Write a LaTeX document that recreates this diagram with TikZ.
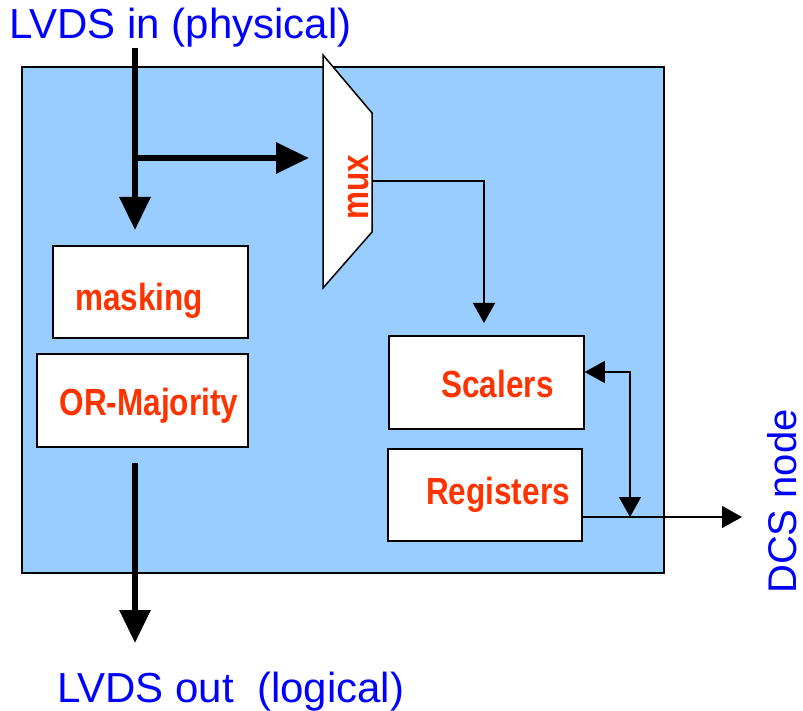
\documentclass[tikz,border=0pt]{standalone}
\usepackage{fontspec}
\setmainfont{Liberation Sans}
\usetikzlibrary{arrows.meta}
\definecolor{panelblue}{HTML}{99CCFF}
\definecolor{labelred}{HTML}{FF3300}
\definecolor{textblue}{HTML}{0000FF}
\tikzset{
  blockbox/.style={draw=black, line width=1.5pt, fill=white, inner sep=0pt},
  redlabel/.style={text=labelred, inner sep=0pt, anchor=base, font=\bfseries\fontsize{31.5}{36}\selectfont},
  bluelabel/.style={text=textblue, inner sep=0pt, font=\fontsize{42}{48}\selectfont},
  thickarrow/.style={line width=6pt, -{Triangle[length=33pt,width=30pt]}},
  thinarrow/.style={line width=1.3pt, -{Triangle[length=20pt,width=22pt]}},
  thindouble/.style={line width=1.3pt, {Triangle[length=20pt,width=22pt]}-{Triangle[length=20pt,width=22pt]}},
}
\newcommand{\tallred}[1]{\scalebox{1}[1.2]{#1}}
\begin{document}
\begin{tikzpicture}[x=1pt,y=-1pt]
\useasboundingbox (0,0) rectangle (803,711);
% main panel
\draw[line width=1.6pt, fill=panelblue] (22,67) rectangle (664,573);
\coordinate (panelNE) at (664,67);

% mux trapezoid
\coordinate (muxA) at (323,55);
\coordinate (muxB) at (372,113);
\coordinate (muxC) at (372,232);
\coordinate (muxD) at (323,288);
\draw[line width=1.5pt, fill=white, line join=miter] (muxA) -- (muxB) -- (muxC) -- (muxD) -- cycle;
\coordinate (muxout) at (372,181);
\node[redlabel, rotate=90] (muxtext) at (368,187.5) {\tallred{mux}};

% blocks
\node[blockbox, minimum width=195pt, minimum height=92pt] (masking) at (150.5,292) {};
\node[blockbox, minimum width=211pt, minimum height=93pt] (ormaj) at (142.5,400.5) {};
\node[blockbox, minimum width=195pt, minimum height=93pt] (scalers) at (486.5,382.5) {};
\node[blockbox, minimum width=194pt, minimum height=92pt] (registers) at (485,495) {};

\node[redlabel] (maskingtext) at (139,310) {\tallred{masking}};
\node[redlabel] (ormajtext) at (149,415) {\tallred{OR-Majority}};
\node[redlabel] (scalerstext) at (497.5,397) {\tallred{Scalers}};
\node[redlabel] (registerstext) at (498,504) {\tallred{Registers}};

% texts outside
\node[bluelabel, anchor=base west] (lvdsin) at (9,39) {LVDS in (physical)};
\node[bluelabel, anchor=base west] (lvdsout) at (57,702) {LVDS out \ (logical)};
\node[bluelabel, anchor=base west, rotate=90, font=\fontsize{40}{46}\selectfont] (dcs) at (796,594) {DCS node};

% thick arrows
\coordinate (inTop) at (135,48);
\coordinate (inSplit) at (135,158);
\coordinate (inTip) at (135,230);
\coordinate (muxInTip) at (309,158);
\draw[thickarrow] (inTop) -- (inTip);
\draw[thickarrow] (inSplit) -- (muxInTip);
\coordinate (outTop) at (135,463);
\coordinate (outTip) at (135,643);
\draw[thickarrow] (outTop) -- (outTip);

% mux to scalers
\coordinate (muxCorner) at (484,181);
\coordinate (scalersTip) at (484,323);
\draw[thinarrow] (muxout) -- (muxCorner) -- (scalersTip);

% registers to DCS
\coordinate (regOut) at (registers.east |- 0,517);
\coordinate (dcsTip) at (742,517);
\draw[thinarrow] (regOut) -- (dcsTip);

% bidirectional scalers <-> bus
\coordinate (scalersIn) at (scalers.east |- 0,372);
\coordinate (busCorner) at (630,372);
\coordinate (busTip) at (630,517);
\draw[thindouble] (scalersIn) -- (busCorner) -- (busTip);
\end{tikzpicture}
\end{document}
